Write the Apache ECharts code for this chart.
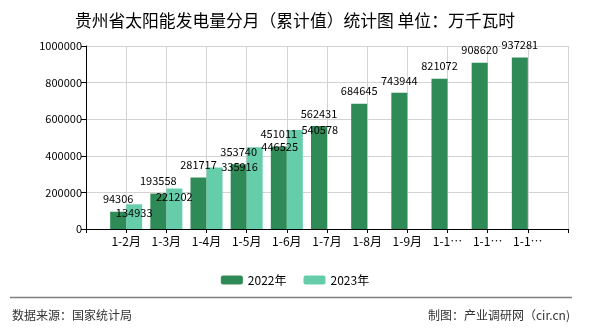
<!DOCTYPE html>
<html>
<head>
<meta charset="utf-8">
<script src="https://cdn.jsdelivr.net/npm/echarts@6/dist/echarts.min.js"></script>
<style>
html,body{margin:0;padding:0;background:#fff;}
#c{width:590px;height:330px;}
</style>
</head>
<body>
<div id="c"></div>
<script>
const titleText = '贵州省太阳能发电量分月（累计值）统计图 单位：万千瓦时';
const categories = ['1-2月','1-3月','1-4月','1-5月','1-6月','1-7月','1-8月','1-9月','1-10月','1-11月','1-12月'];
const values2022 = [94306,193558,281717,353740,451011,562431,684645,743944,821072,908620,937281];
const values2023 = [134933,221202,335916,446525,540578];
const seriesNames = ['2022年','2023年'];
const yTicks = [0,200000,400000,600000,800000,1000000];
const sourceText = '数据来源：国家统计局';
const makerText = '制图：产业调研网（cir.cn)';

const FONT = '"Noto Sans CJK SC", "Liberation Sans", sans-serif';
const axisData = [''].concat(categories, ['']);
const pad = (arr) => ['-'].concat(arr, new Array(axisData.length - 1 - arr.length).fill('-'));

const d2022 = pad(values2022);
const d2023 = pad(values2023).map((v, i) => {
  if (v === '-') return v;
  const k = i - 1;
  return {
    value: v,
    label: { offset: k < 2 ? [0, 21] : [25, 12] }
  };
});

const chart = echarts.init(document.getElementById('c'), null, {renderer: 'canvas'});
chart.setOption({
  animation: false,
  backgroundColor: '#fff',
  title: {
    text: titleText,
    left: 'center',
    top: 7,
    textStyle: { fontFamily: FONT, fontSize: 16.8, fontWeight: 'normal', color: '#000' }
  },
  legend: {
    data: seriesNames,
    left: 'center',
    top: 269,
    itemWidth: 22,
    itemHeight: 9,
    itemGap: 17,
    textStyle: { fontFamily: FONT, fontSize: 12, color: '#000' }
  },
  grid: { left: 86, right: 22, top: 46, bottom: 101, containLabel: false },
  xAxis: {
    type: 'category',
    data: axisData,
    boundaryGap: false,
    axisLine: { lineStyle: { color: '#000', width: 1 } },
    axisTick: { show: true, length: 4, lineStyle: { color: '#000' } },
    axisLabel: {
      fontFamily: FONT, fontSize: 12, color: '#000', margin: 6,
      width: 32, overflow: 'truncate', ellipsis: '…', interval: 0
    },
    splitLine: { show: true, lineStyle: { color: '#d3d3d3', width: 1 } }
  },
  yAxis: {
    type: 'value',
    min: yTicks[0],
    max: yTicks[yTicks.length - 1],
    interval: yTicks[1] - yTicks[0],
    axisLine: { show: true, lineStyle: { color: '#000', width: 1 } },
    axisTick: { show: true, length: 5, lineStyle: { color: '#000' } },
    axisLabel: { fontFamily: FONT, fontSize: 11, color: '#000', margin: 4, formatter: (v) => String(v) },
    splitLine: { show: true, lineStyle: { color: '#d3d3d3', width: 1 } }
  },
  series: [
    {
      name: seriesNames[0],
      type: 'bar',
      data: d2022,
      barWidth: 16,
      barGap: '0%',
      itemStyle: { color: '#2E8B57' },
      label: { show: true, position: 'top', distance: 7, fontFamily: FONT, fontSize: 11, color: '#000' }
    },
    {
      name: seriesNames[1],
      type: 'bar',
      data: d2023,
      barWidth: 16,
      barGap: '0%',
      itemStyle: { color: '#66CDAA' },
      label: { show: true, position: 'top', distance: 7, fontFamily: FONT, fontSize: 11, color: '#000' }
    }
  ],
  graphic: [
    { type: 'line', shape: { x1: 10, y1: 297.5, x2: 572, y2: 297.5 }, style: { stroke: '#808080', lineWidth: 1.5 } },
    { type: 'text', left: 12, top: 309, style: { text: sourceText, font: '12px ' + FONT, fill: '#333' } },
    { type: 'text', right: 20, top: 309, style: { text: makerText, font: '12px ' + FONT, fill: '#333' } }
  ]
});
</script>
</body>
</html>
